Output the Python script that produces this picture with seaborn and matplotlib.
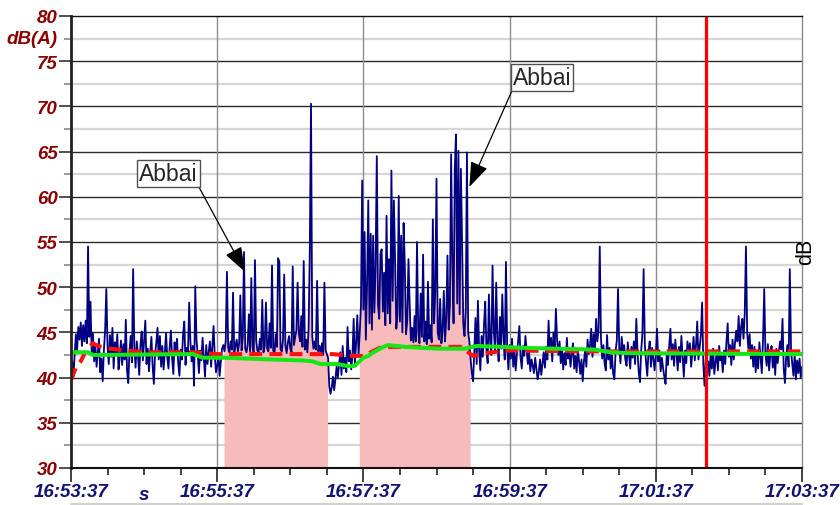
import numpy as np
import pandas as pd
import matplotlib
matplotlib.use("Agg")
import matplotlib.pyplot as plt
from matplotlib.lines import Line2D
import seaborn as sns

# Sound pressure level, dB(A), one reading per second starting 16:53:37
level = [
    40.5, 41.8, 40.2, 42.5, 44.8, 43.0, 45.6, 44.2, 46.1, 43.5, 45.8, 44.0, 46.3, 43.8, 54.5, 44.5, 48.4, 42.6, 44.9, 41.8,
    43.6, 41.2, 42.8, 44.3, 40.6, 42.1, 39.6, 43.0, 45.2, 49.8, 43.4, 41.5, 44.7, 42.3, 45.5, 41.0, 43.9, 42.6, 44.8, 40.9,
    42.2, 44.1, 41.4, 43.7, 42.0, 46.4, 40.8, 39.4, 42.9, 44.6, 41.7, 52.0, 43.3, 41.1, 44.0, 42.4, 40.3, 43.6, 45.1, 41.9,
    44.2, 46.3, 41.5, 43.2, 40.7, 42.8, 44.5, 41.3, 39.3, 42.6, 43.8, 45.5, 42.0, 44.6, 41.2, 43.5, 40.9, 42.7, 44.9, 42.3,
    41.0, 43.4, 45.2, 42.1, 40.4, 43.9, 42.5, 44.3, 41.6, 40.2, 43.1, 42.0, 44.8, 46.2, 41.4, 43.3, 42.7, 48.3, 44.0, 41.8,
    43.5, 39.1, 50.1, 44.2, 42.6, 40.5, 43.0, 41.9, 44.4, 42.2, 40.1, 43.6, 41.5, 42.8, 44.0, 41.2, 43.4, 45.7, 42.4, 40.6,
    41.3, 42.5, 40.2, 41.8, 43.2, 43.6, 42.9, 44.1, 51.7, 43.3, 42.8, 44.0, 43.1, 49.4, 42.7, 43.5, 44.2, 42.9, 43.8, 49.1,
    43.0, 44.5, 53.9, 43.2, 42.8, 43.6, 47.0, 42.9, 51.0, 43.4, 42.6, 53.0, 44.1, 43.0, 42.7, 44.3, 43.1, 48.6, 42.8, 43.5,
    48.3, 43.2, 42.9, 46.0, 43.3, 52.4, 43.0, 42.6, 44.8, 43.4, 53.2, 52.8, 43.1, 42.9, 44.2, 51.4, 43.5, 42.7, 43.9, 44.6,
    43.2, 42.8, 52.3, 43.6, 44.5, 45.2, 50.5, 44.9, 44.0, 46.8, 43.4, 52.9, 43.1, 44.2, 42.8, 45.3, 54.0, 70.3, 44.6, 43.2,
    44.0, 43.1, 50.7, 42.9, 43.5, 42.7, 43.8, 42.5, 50.5, 43.0, 42.6, 42.2, 39.0, 38.2, 38.9, 40.1, 38.6, 39.8, 41.2, 40.0,
    41.4, 42.8, 40.3, 43.5, 41.0, 42.2, 40.6, 45.6, 41.8, 43.0, 40.9, 42.4, 46.5, 41.5, 43.8, 46.9, 42.5, 45.0, 48.0, 61.8,
    47.5, 56.1, 44.2, 50.3, 59.6, 46.0, 55.9, 45.3, 55.7, 47.2, 52.4, 64.5, 48.0, 46.5, 53.7, 54.2, 47.3, 51.6, 45.8, 57.9,
    47.1, 53.1, 46.0, 62.9, 48.5, 59.6, 53.1, 45.4, 47.0, 60.1, 46.2, 55.7, 45.0, 57.1, 52.4, 44.8, 46.3, 53.1, 48.0, 44.1,
    45.5, 43.9, 46.8, 44.0, 55.0, 45.2, 43.8, 49.3, 44.5, 53.6, 44.0, 46.2, 43.7, 50.6, 44.3, 45.8, 43.9, 57.5, 46.0, 49.5,
    62.0, 45.0, 44.2, 48.7, 43.8, 45.1, 49.6, 44.0, 46.5, 53.5, 45.3, 48.0, 64.7, 52.7, 46.0, 63.1, 66.9, 48.2, 65.1, 47.0,
    63.1, 55.0, 45.9, 44.6, 47.5, 64.9, 45.0, 44.0, 42.0, 40.5, 39.6, 42.8, 46.6, 41.5, 48.5, 43.0, 40.8, 44.6, 42.3, 45.9,
    48.4, 43.1, 41.6, 49.2, 44.0, 42.5, 52.4, 45.3, 43.0, 50.5, 44.1, 41.8, 46.7, 43.2, 49.2, 44.6, 42.0, 52.8, 43.5, 40.9,
    43.6, 42.1, 44.3, 41.2, 43.0, 40.8, 42.6, 44.0, 45.7, 42.2, 41.0, 43.5, 42.4, 44.6, 43.1, 41.5, 42.8, 40.7, 42.0, 41.3,
    40.5, 42.2, 41.0, 39.8, 40.6, 42.0, 40.3, 41.5, 42.8, 41.1, 43.4, 42.0, 46.3, 43.0, 44.4, 41.8, 45.0, 43.2, 47.6, 44.1,
    42.5, 44.0, 41.6, 43.3, 40.9, 42.7, 41.4, 44.4, 42.1, 43.0, 41.2, 42.6, 43.8, 41.0, 42.4, 40.6, 43.2, 41.8, 40.4, 42.0,
    39.6, 41.8, 43.0, 41.2, 44.2, 42.6, 43.5, 45.4, 42.3, 44.8, 43.0, 46.5, 44.0, 45.2, 54.5, 44.3, 42.1, 43.6, 41.5, 40.8,
    44.7, 42.0, 43.3, 41.0, 42.5, 40.4, 39.8, 42.9, 44.1, 49.8, 43.2, 41.6, 44.5, 42.8, 43.6, 42.0, 41.3, 43.9, 42.5, 41.0,
    43.4, 42.2, 44.0, 41.5, 46.5, 42.8, 40.6, 39.5, 43.0, 44.8, 52.0, 43.6, 41.7, 40.2, 42.9, 44.0, 41.2, 43.3, 42.1, 40.8,
    42.5, 45.4, 41.8, 43.0, 40.7, 42.2, 41.0, 40.1, 39.3, 42.6, 41.4, 43.5, 45.4, 42.0, 43.7, 41.3, 44.2, 42.6, 40.8, 43.4,
    41.7, 44.6, 42.3, 40.1, 43.0, 41.6, 44.0, 42.5, 43.8, 41.2, 42.9, 44.5, 41.9, 43.6, 46.2, 42.0, 43.3, 44.7, 48.3, 41.5,
    39.1, 42.0, 40.5, 41.8, 40.2, 42.6, 41.0, 43.2, 40.4, 41.7, 42.9, 40.8, 43.5, 41.9, 42.4, 40.6, 43.0, 41.5, 44.0, 46.0,
    42.3, 43.6, 41.4, 44.2, 42.0, 43.8, 45.2, 44.0, 46.8, 43.5, 45.6, 46.5, 44.3, 47.1, 54.5, 45.0, 43.2, 44.8, 42.1, 43.6,
    41.2, 43.4, 40.6, 42.8, 41.0, 43.9, 42.2, 40.5, 44.1, 49.8, 42.6, 41.3, 43.7, 40.8, 42.5, 43.5, 41.1, 42.9, 40.3, 43.2,
    41.6, 42.8, 44.0, 43.1, 46.5, 41.0, 39.4, 42.3, 43.6, 41.2, 52.0, 43.0, 41.5, 40.2, 42.6, 39.8, 41.9, 40.5, 42.1, 40.0,
    41.2,
]

# Running equivalent level (green) and running median (red dashed)
leq_t = [0, 14, 18, 100, 108, 125, 166, 190, 198, 205, 219, 228, 233, 236, 240, 244, 247, 251, 255,
         260, 274, 301, 323, 333, 353, 370, 397, 430, 443, 460, 600]
leq_v = [42.8, 42.8, 42.5, 42.6, 42.2, 42.2, 42.0, 41.9, 41.8, 41.5, 41.5, 41.25, 41.3, 41.7, 42.2,
         42.4, 42.7, 43.0, 43.3, 43.6, 43.4, 43.2, 43.2, 43.5, 43.4, 43.3, 43.2, 43.1, 42.8, 42.7, 42.6]
med_t = [0, 4, 8, 13, 18, 22, 32, 45, 60, 100, 120, 215, 230, 240, 255, 320, 330, 345, 360, 420, 600]
med_v = [39.7, 41.1, 41.8, 43.2, 43.8, 43.5, 43.2, 43.0, 42.8, 42.8, 42.6, 42.6, 42.4, 42.4, 43.4, 43.4,
         42.4, 42.8, 43.0, 42.9, 42.9]

# Marked source events (seconds from start) and the cursor position
events = [(125.5, 211.0), (236.5, 328.0)]
cursor_t = 521

x_ticks = [0, 120, 240, 360, 480, 600]
x_labels = ["16:53:37", "16:55:37", "16:57:37", "16:59:37", "17:01:37", "17:03:37"]
y_ticks = [30, 35, 40, 45, 50, 55, 60, 65, 70, 75, 80]
y_labels = ["30", "35", "40", "45", "50", "55", "60", "65", "70", "75", "80"]

note_text = ["Abbai", "Abbai"]
note_target = [(142.8, 51.7), (327.0, 61.1)]

sns.set_style("white")
plt.rcParams["font.family"] = ["Liberation Sans", "DejaVu Sans"]

df = pd.DataFrame({"t": np.arange(len(level)), "level": level})
t = df["t"].to_numpy()
lvl = df["level"].to_numpy()

fig = plt.figure(figsize=(8.4, 5.06), dpi=100)
ax = fig.add_axes([71 / 840, 37 / 506, 731 / 840, 452 / 506])
ax.set_xlim(0, 600)
ax.set_ylim(30, 80)

# grid
for y in np.arange(32.5, 80, 5):
    ax.axhline(y, color="#d6d6d6", lw=1.6, zorder=0)
for y in y_ticks[1:-1]:
    ax.axhline(y, color="#2a2a2a", lw=1.0, zorder=0.5)
for x in x_ticks[1:-1]:
    ax.axvline(x, color="#8c8c8c", lw=1.0, zorder=0.5)

# shaded events under the level trace
mask = np.zeros(len(t), dtype=bool)
for a, b in events:
    mask |= (t >= a) & (t <= b)
ax.fill_between(t, 30, lvl, where=mask, color="#f8bbbb", lw=0, zorder=1)

sns.lineplot(data=df, x="t", y="level", color="#000080", lw=1.3, ax=ax, zorder=2)
sns.lineplot(x=med_t, y=med_v, color="#ff1010", lw=2.9, linestyle=(0, (3.2, 1.8)),
             ax=ax, zorder=3)
sns.lineplot(x=leq_t, y=leq_v, color="#16e616", lw=2.9, ax=ax, zorder=4)
ax.axvline(cursor_t, color="#ff0000", lw=2.3, zorder=5)

# annotations
box_pos = [(80, 62.6), (386.6, 73.2)]
rel = [(1, 0), (0, 0)]
for txt, tgt, pos, rp in zip(note_text, note_target, box_pos, rel):
    ax.annotate(txt, xy=tgt, xytext=pos, ha="center", va="center", fontsize=16.5,
                bbox=dict(boxstyle="square,pad=0.08", fc="white", ec="#505050", lw=1),
                arrowprops=dict(arrowstyle="-|>,head_length=0.55,head_width=0.2",
                                mutation_scale=28, lw=0.9, color="black",
                                shrinkA=0, shrinkB=0, relpos=rp),
                zorder=6)

ax.set_xlabel("")
ax.set_ylabel("")

# ticks and labels
ax.set_xticks(x_ticks, x_labels)
ax.set_xticks(np.arange(0, 601, 30), minor=True)
ax.set_yticks(y_ticks, y_labels)
ax.set_yticks(np.arange(32.5, 80, 5), minor=True)
ax.tick_params(which="both", bottom=True, left=True, direction="out")
ax.tick_params(axis="x", which="major", length=10, width=1.2, color="#222222", pad=1,
               labelsize=13.5, labelcolor="#101373")
ax.tick_params(axis="x", which="minor", length=5, width=1.2, color="#222222")
ax.tick_params(axis="y", which="major", length=8.6, width=1.2, color="#333333", pad=1.2,
               labelsize=13.5, labelcolor="#8b0000")
ax.tick_params(axis="y", which="minor", length=5, width=1.2, color="#8a8a8a")
for lab in ax.get_xticklabels() + ax.get_yticklabels():
    lab.set_fontweight("bold")
    lab.set_fontstyle("italic")

ax.text(60, -0.069, "s", transform=ax.get_xaxis_transform(), ha="center", va="baseline",
        fontsize=13.5, fontweight="bold", fontstyle="italic", color="#101373")
ax.text(-14 / 731, 77.5, "dB(A)", transform=ax.get_yaxis_transform(), ha="right", va="center",
        fontsize=13.5, fontweight="bold", fontstyle="italic", color="#8b0000")

for side, (c, w) in {"left": ("#222222", 2.0), "bottom": ("#111111", 1.5),
                     "top": ("#111111", 1.0), "right": ("#8a8a8a", 1.0)}.items():
    ax.spines[side].set_visible(True)
    ax.spines[side].set_color(c)
    ax.spines[side].set_linewidth(w)
    ax.spines[side].set_zorder(7)

fig.text(805.7 / 840, 1 - 251.7 / 506, "dB", rotation=90, ha="center", va="center",
         fontsize=15.5, color="black")
fig.add_artist(Line2D([71 / 840, 802 / 840], [1.2 / 506, 1.2 / 506], color="#d0d0d0", lw=1.5))

fig.savefig("out.png", dpi=100)
